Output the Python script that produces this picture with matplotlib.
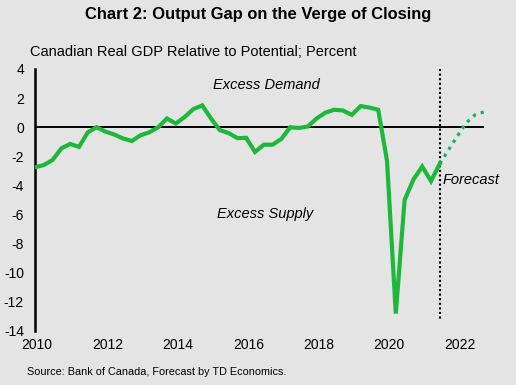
import numpy as np
import matplotlib
matplotlib.use("Agg")
import matplotlib.pyplot as plt

plt.rcParams['font.family'] = ['Liberation Sans', 'DejaVu Sans']

# Quarterly data from 2010Q1
actual = [-2.75, -2.6, -2.25, -1.45, -1.15, -1.35, -0.35, 0.0, -0.3, -0.5,
          -0.77, -0.95, -0.55, -0.35, 0.0, 0.6, 0.25, 0.7, 1.25, 1.5,
          0.6, -0.2, -0.4, -0.75, -0.73, -1.7, -1.2, -1.2, -0.8, 0.0,
          -0.05, 0.05, 0.6, 1.0, 1.2, 1.15, 0.85, 1.45, 1.35, 1.2,
          -2.3, -12.8, -5.0, -3.6, -2.7, -3.7, -2.5]
forecast = [-2.5, -1.55, -0.6, 0.3, 0.85, 1.05]
year_labels = ['2010', '2012', '2014', '2016', '2018', '2020', '2022']
y_ticks = [4, 2, 0, -2, -4, -6, -8, -10, -12, -14]

bg = '#E4E4E4'
fig = plt.figure(figsize=(5.16, 3.85), dpi=100, facecolor=bg)
ax = fig.add_axes([35/516, 1-331/385, (483.8-35)/516, (331-69)/385])
ax.set_facecolor(bg)

n_act = len(actual)
x_act = np.arange(n_act)
x_fc = np.arange(n_act - 1, n_act - 1 + len(forecast))

ax.axhline(0, color='black', lw=1.4, zorder=2)
ax.plot(x_act, actual, color='#1DB83A', lw=3.0, solid_joinstyle='miter', zorder=3)
ax.plot(x_fc, forecast, color='#12B257', lw=2.3, linestyle=(0, (1, 1.6)),
        dash_capstyle='butt', zorder=3)
ax.plot([n_act - 1, n_act - 1], [4, -13.3], color='black', lw=1.5,
        linestyle=(0, (1, 1.2)), dash_capstyle='butt', zorder=2)

ax.set_xlim(0, n_act - 1 + len(forecast) - 1)
ax.set_ylim(-14, 4)
ax.set_yticks(y_ticks)
ax.set_yticklabels([str(t) for t in y_ticks])
ax.set_xticks(np.arange(0, 8 * len(year_labels), 8) + 0.25)
ax.set_xticklabels(year_labels)
ax.tick_params(axis='both', length=0, labelsize=10, colors='black')
ax.tick_params(axis='y', pad=8)
ax.tick_params(axis='x', pad=5)

for s in ['top', 'right', 'bottom']:
    ax.spines[s].set_visible(False)
ax.spines['left'].set_linewidth(1.8)
ax.spines['left'].set_color('black')

ax.text(26.25, 2.88, 'Excess Demand', style='italic', fontsize=10.5,
        ha='center', va='center')
ax.text(26.1, -5.97, 'Excess Supply', style='italic', fontsize=10.5,
        ha='center', va='center')
ax.text(46.3, -3.64, 'Forecast', style='italic', fontsize=10.5,
        ha='left', va='center')

fig.text(0.5, 1-15/385, 'Chart 2: Output Gap on the Verge of Closing',
         fontsize=11.9, fontweight='bold', ha='center', va='center')
fig.text(30/516, 1-52/385, 'Canadian Real GDP Relative to Potential; Percent',
         fontsize=10.5, ha='left', va='center')
fig.text(27/516, 1-372/385, 'Source: Bank of Canada, Forecast by TD Economics.',
         fontsize=7.8, ha='left', va='center')

fig.savefig('out.png', dpi=100, facecolor=bg)
